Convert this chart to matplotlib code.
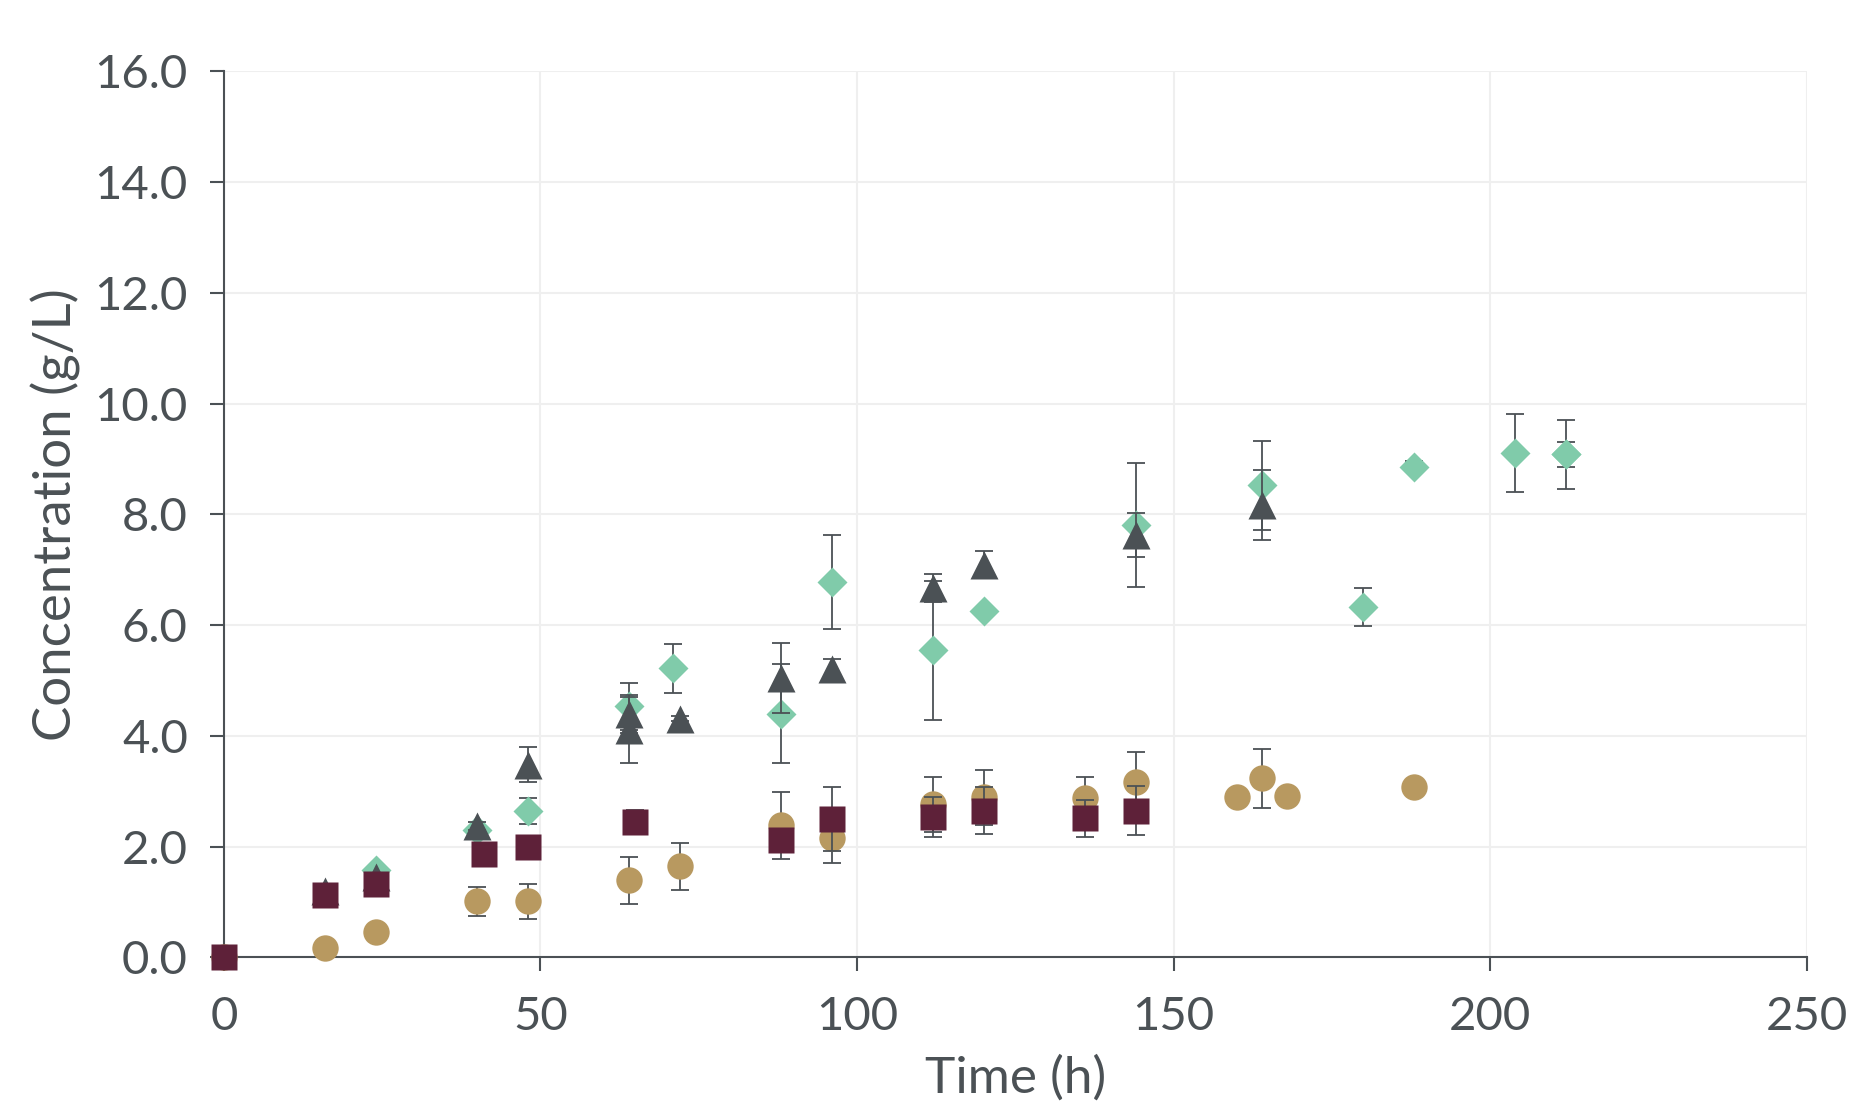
import numpy as np
import matplotlib.pyplot as plt

# circles (tan)
t_circ = [0, 16, 24, 40, 48, 64, 72, 88, 96, 112, 120, 136, 144, 160, 164, 168, 188]
c_circ = [0.0, 0.16, 0.45, 1.01, 1.01, 1.39, 1.64, 2.38, 2.15, 2.76, 2.89, 2.87, 3.16, 2.89, 3.23, 2.92, 3.07]
e_circ = [0, 0, 0, 0.26, 0.32, 0.42, 0.42, 0.6, 0.45, 0.5, 0.5, 0.38, 0.54, 0, 0.54, 0, 0]

# squares (maroon)
t_sq = [0, 16, 24, 41, 48, 65, 88, 96, 112, 120, 136, 144]
c_sq = [0.0, 1.12, 1.33, 1.86, 1.99, 2.44, 2.11, 2.49, 2.53, 2.65, 2.51, 2.65]
e_sq = [0, 0.03, 0.03, 0, 0, 0.22, 0.2, 0.58, 0.36, 0.42, 0.33, 0.45]

# triangles (dark grey)
t_tri = [16, 24, 40, 48, 64, 64, 72, 88, 96, 112, 120, 144, 164]
c_tri = [1.2, 1.45, 2.37, 3.48, 4.39, 4.10, 4.31, 5.05, 5.20, 6.67, 7.09, 7.63, 8.17]
e_tri = [0, 0, 0.07, 0.32, 0.34, 0.6, 0.05, 0.63, 0.18, 0.25, 0.24, 0.4, 0.63]

# diamonds (mint)
t_dia = [24, 40, 48, 64, 71, 88, 96, 112, 120, 144, 164, 180, 188, 204, 212, 212]
c_dia = [1.57, 2.3, 2.64, 4.53, 5.22, 4.40, 6.77, 5.54, 6.26, 7.81, 8.52, 6.32, 8.86, 9.11, 9.08, 9.08]
e_dia = [0, 0, 0.23, 0.43, 0.44, 0.9, 0.85, 1.25, 0, 1.12, 0.81, 0.34, 0.1, 0.7, 0.63, 0.23]

x_ticks = [0, 50, 100, 150, 200, 250]
y_ticks = np.arange(0, 16.1, 2)

grey = "#4B5155"
plt.rcParams['font.family'] = ['Lato', 'DejaVu Sans']

fig = plt.figure(figsize=(18.51, 11.06), dpi=100)
ax = fig.add_axes([0.121, 0.1345, 0.855, 0.801])

err_kw = dict(ecolor=grey, elinewidth=1.3, capsize=6.5, capthick=1.3, linestyle="none", clip_on=False)
series = [
    (t_dia, c_dia, e_dia, "D", 15, "#80CBAA", 3),
    (t_tri, c_tri, e_tri, "^", 20, grey, 4),
    (t_circ, c_circ, e_circ, "o", 19, "#B89960", 5),
    (t_sq, c_sq, e_sq, "s", 19, "#5E2139", 6),
]
for t, c, e, m, ms, col, z in series:
    ax.errorbar(t, c, yerr=e, marker=m, ms=ms, color=col, mec="none", zorder=z, **err_kw)

ax.set_xlim(0, 250)
ax.set_ylim(0, 16)
ax.set_xticks(x_ticks)
ax.set_yticks(y_ticks)
ax.set_yticklabels([f"{v:.1f}" for v in y_ticks])
ax.grid(True, color="#EFEFEF", linewidth=1.5, zorder=0)
ax.set_axisbelow(True)

for s in ["top", "right"]:
    ax.spines[s].set_visible(False)
for s in ["left", "bottom"]:
    ax.spines[s].set_color(grey)
    ax.spines[s].set_linewidth(1.5)
ax.tick_params(axis="both", colors=grey, labelsize=34, length=10, width=1.5)
ax.tick_params(axis="y", pad=16)
ax.tick_params(axis="x", pad=18)

ax.set_xlabel("Time (h)", fontsize=37, color=grey, labelpad=12)
ax.set_ylabel("Concentration (g/L)", fontsize=38, color=grey, labelpad=10)

fig.savefig("out.png", dpi=100)
